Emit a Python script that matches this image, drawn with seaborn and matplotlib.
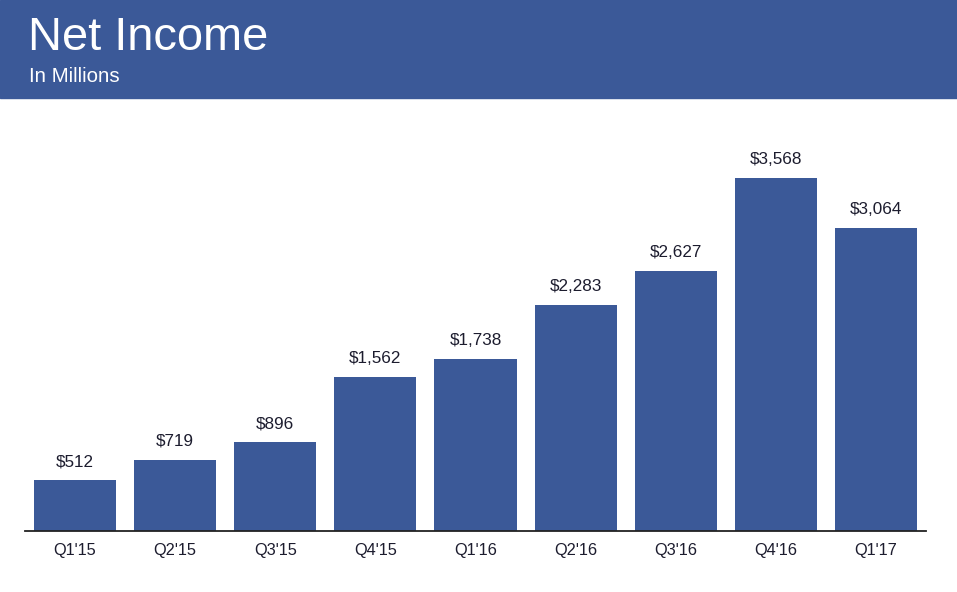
import matplotlib
matplotlib.use('Agg')
import matplotlib.pyplot as plt
import matplotlib.patches as patches
import seaborn as sns
import pandas as pd

# Chart data
quarters = ["Q1'15", "Q2'15", "Q3'15", "Q4'15", "Q1'16", "Q2'16", "Q3'16", "Q4'16", "Q1'17"]
net_income = [512, 719, 896, 1562, 1738, 2283, 2627, 3568, 3064]

df = pd.DataFrame({'quarter': quarters, 'income': net_income})

blue = '#3b5998'
text_color = '#1c1c2e'

sns.set_style('white')
plt.rcParams['font.family'] = ['Liberation Sans', 'DejaVu Sans']

fig = plt.figure(figsize=(9.57, 5.92), dpi=100)

# Header band
fig.patches.append(patches.Rectangle((0, 1 - 98 / 592), 1, 98 / 592,
                                     transform=fig.transFigure, color=blue, zorder=0))
fig.text(28 / 957, 1 - 38 / 592, 'Net Income', color='white', fontsize=33.8,
         va='center', ha='left')
fig.text(29 / 957, 1 - 76 / 592, 'In Millions', color='white', fontsize=14.8,
         va='center', ha='left')

ax = fig.add_axes([25 / 957, 61 / 592, 901 / 957, 421 / 592])
sns.barplot(data=df, x='quarter', y='income', color=blue, width=0.82,
            saturation=1, linewidth=0, ax=ax)

for i, v in enumerate(net_income):
    ax.annotate(f'${v:,}', (i, v), xytext=(0, 8), textcoords='offset points',
                ha='center', va='bottom', fontsize=12.3, color=text_color)

ax.set_xlim(-0.5, len(quarters) - 0.5)
ax.set_ylim(0, 4260)
ax.set_xlabel('')
ax.set_ylabel('')
ax.set_yticks([])
ax.tick_params(axis='x', length=0, labelsize=11.8, colors=text_color, pad=9)
for s in ['top', 'left', 'right']:
    ax.spines[s].set_visible(False)
ax.spines['bottom'].set_color('#222222')
ax.spines['bottom'].set_linewidth(1.3)

fig.savefig('out.png', dpi=100)
